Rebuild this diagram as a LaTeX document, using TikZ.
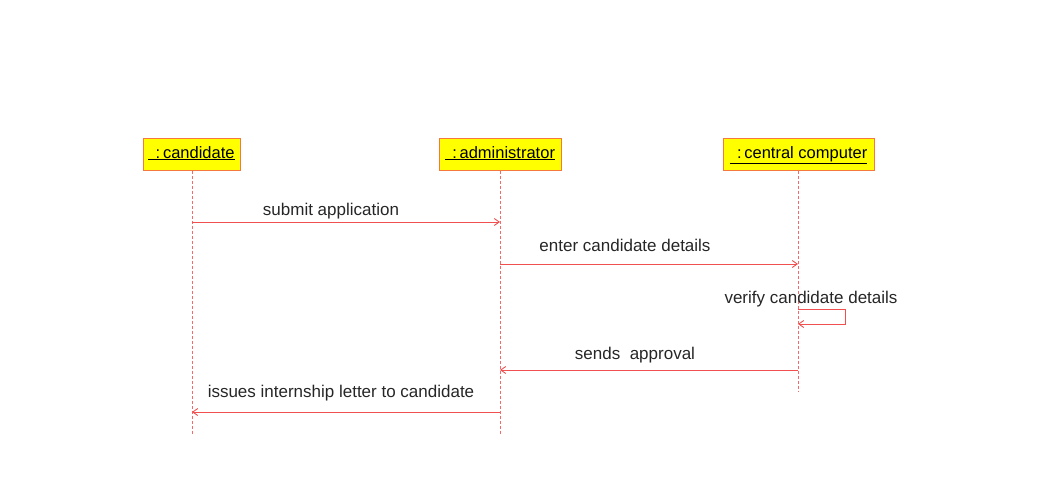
\documentclass[tikz,border=0pt]{standalone}
\usepackage{fontspec}
\setmainfont{Liberation Sans}
\usetikzlibrary{positioning, arrows.meta}

\definecolor{msgred}{RGB}{240,80,80}
\definecolor{boxline}{RGB}{245,120,60}
\definecolor{boxfill}{RGB}{255,255,0}

\tikzset{
  object/.style={draw=boxline, fill=boxfill, line width=1pt, minimum height=32pt,
    inner xsep=2pt, text height=12pt, text depth=4pt, font=\fontsize{16.5}{18}\selectfont},
  lifeline/.style={draw=msgred!85, dash pattern=on 3pt off 2pt, line width=0.9pt},
  msg/.style={draw=msgred, line width=0.9pt, -{Straight Barb[length=5pt,width=7pt]}},
  lbl/.style={font=\fontsize{17}{19}\selectfont, text=black!85, inner sep=0pt}
}

\begin{document}
\begin{tikzpicture}[x=1pt, y=-1pt]
    \useasboundingbox (0,0) rectangle (1052,496);

    \node[object, minimum width=97pt] (cand) at (191.5,154) {\underline{\ \,:\,candidate}};
    \node[object, minimum width=122pt] (admin) at (500,154) {\underline{\ \,:\,administrator}};
    \node[object, minimum width=151pt] (comp) at (798.5,154) {\underline{\ \,:\,central computer}};

    % lifelines
    \coordinate (candend) at (192,435);
    \coordinate (adminend) at (500,435);
    \coordinate (compend) at (798,392);
    \draw[lifeline] (cand.south -| candend) -- (candend);
    \draw[lifeline] (admin.south -| adminend) -- (adminend);
    \draw[lifeline] (comp.south -| compend) -- (compend);

    % message points
    \coordinate (c1) at (192,222);
    \coordinate (a1) at (500,222);
    \coordinate (a2) at (500,264);
    \coordinate (p2) at (798,264);
    \coordinate (p3) at (798,309);
    \coordinate (p3b) at (798,324);
    \coordinate (p4) at (798,370);
    \coordinate (a4) at (500,370);
    \coordinate (a5) at (500,412);
    \coordinate (c5) at (192,412);

    \draw[msg] (c1) -- (a1);
    \draw[msg] (a2) -- (p2);
    \draw[msg] (p3) -- ++(47,0) -- ++(0,15) -- (p3b);
    \draw[msg] (p4) -- (a4);
    \draw[msg] (a5) -- (c5);

    \node[lbl] (m1) at (331,211) {submit application};
    \node[lbl] (m2) at (625,245) {enter candidate details};
    \node[lbl] (m3) at (811,299) {verify candidate details};
    \node[lbl] (m4) at (635,355) {sends\ \ approval};
    \node[lbl] (m5) at (341,393) {issues internship letter to candidate};
\end{tikzpicture}
\end{document}
